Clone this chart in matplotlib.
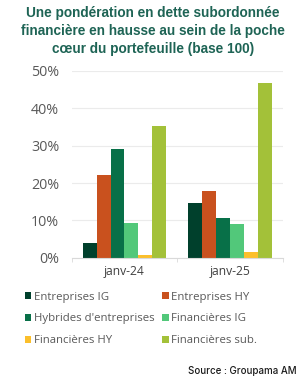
import matplotlib.pyplot as plt
import numpy as np

categories = ["janv-24", "janv-25"]
series = ["Entreprises IG", "Entreprises HY", "Hybrides d'entreprises",
          "Financières IG", "Financières HY", "Financières sub."]
values = {
    "Entreprises IG": [4.0, 14.6],
    "Entreprises HY": [22.1, 17.9],
    "Hybrides d'entreprises": [29.1, 10.7],
    "Financières IG": [9.3, 9.1],
    "Financières HY": [0.7, 1.4],
    "Financières sub.": [35.4, 46.7],
}
colors = ["#00402C", "#C9511E", "#087048", "#52C87A", "#FBBF2B", "#A3C139"]
yticks = [0, 10, 20, 30, 40, 50]

W, H = 306, 387
fig = plt.figure(figsize=(W / 100, H / 100), dpi=100)
ax = fig.add_axes([71.7 / W, 1 - 257.7 / H, 211 / W, (257.7 - 71) / H])

x = np.arange(len(categories))
bw = 0.132
handles = []
for i, name in enumerate(series):
    b = ax.bar(x + (i - 2.5) * bw, values[name], bw, color=colors[i], label=name)
    handles.append(b)

ax.set_xlim(-0.5, 1.5)
ax.set_ylim(0, 50)
ax.set_yticks(yticks)
ax.set_yticklabels([f"{v}%" for v in yticks], family="Open Sans", fontsize=10.3, color="#595959")
ax.set_xticks(x)
ax.set_xticklabels(categories, family="Open Sans", fontsize=8.7, color="#404040")
ax.tick_params(axis="x", length=0, pad=5)
ax.tick_params(axis="y", length=0, pad=9)
ax.set_xticks([-0.5, 0.5, 1.5], minor=True)
ax.tick_params(axis="x", which="minor", length=3, color="#D9D9D9")
ax.grid(axis="y", color="#EBEBEB", linewidth=0.8)
ax.set_axisbelow(True)
for s in ["top", "right", "left"]:
    ax.spines[s].set_visible(False)
ax.spines["bottom"].set_color("#D9D9D9")

fig.text(0.5, 1 - 31 / H,
         "Une pondération en dette subordonnée\nfinancière en hausse au sein de la poche\ncœur du portefeuille (base 100)",
         ha="center", va="center", family="Liberation Sans", fontweight="bold",
         fontsize=9.8, color="#1E6455", linespacing=1.4)

order = [0, 2, 4, 1, 3, 5]
leg = fig.legend([handles[i] for i in order], [series[i] for i in order],
                 ncol=2, loc="upper left", bbox_to_anchor=(20 / W, 1 - 287 / H),
                 frameon=False, prop={"family": "Open Sans", "size": 8.2},
                 handlelength=0.6, handleheight=0.6, handletextpad=0.2,
                 columnspacing=0.65, labelspacing=0.95, borderaxespad=0)
for t in leg.get_texts():
    t.set_color("#595959")

fig.text(297 / W, 1 - 371 / H, "Source : Groupama AM", ha="right", va="center",
         family="Inter", fontsize=7, fontweight="medium", color="#1A1A1A")

fig.savefig("out.png", dpi=100)
